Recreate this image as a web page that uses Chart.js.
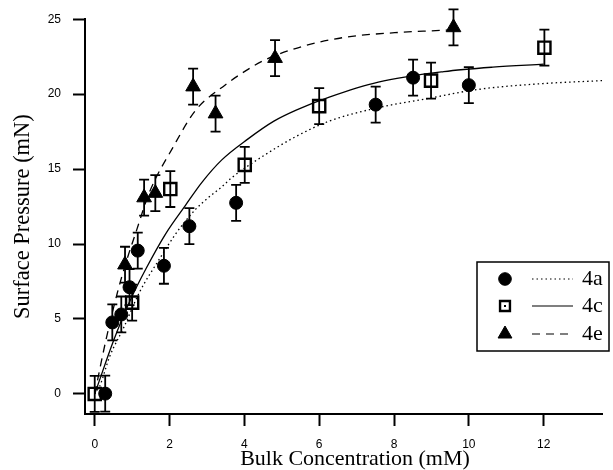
<!DOCTYPE html>
<html><head><meta charset="utf-8">
<script src="https://cdn.jsdelivr.net/npm/chart.js@4.4.0/dist/chart.umd.min.js"></script>
<style>html,body{margin:0;padding:0;background:#fff;}canvas{display:block;}</style>
</head><body>
<canvas id="c" width="613" height="470"></canvas>
<script>
// ---- data ----
const xTicks = [0, 2, 4, 6, 8, 10, 12];
const yTicks = [0, 5, 10, 15, 20, 25];
const seriesNames = ['4a', '4c', '4e'];
const xTitle = 'Bulk Concentration (mM)';
const yTitle = 'Surface Pressure (mN)';

const x4a = [0.28, 0.47, 0.71, 0.93, 1.15, 1.85, 2.53, 3.78, 7.51, 8.51, 10.0];
const y4a = [0.02, 4.77, 5.3, 7.12, 9.56, 8.55, 11.19, 12.75, 19.3, 21.1, 20.6];
const e4a = [1.2, 1.2, 1.2, 1.2, 1.2, 1.2, 1.2, 1.2, 1.2, 1.2, 1.2];

const x4c = [0.0, 1.0, 2.02, 4.01, 6.0, 8.99, 12.02];
const y4c = [0.0, 6.09, 13.67, 15.28, 19.2, 20.9, 23.1];
const e4c = [1.2, 1.2, 1.2, 1.2, 1.2, 1.2, 1.2];

const x4e = [0.81, 1.32, 1.62, 2.63, 3.23, 4.82, 9.59];
const y4e = [8.62, 13.1, 13.4, 20.5, 18.7, 22.4, 24.45];
const e4e = [1.2, 1.2, 1.2, 1.2, 1.2, 1.2, 1.2];

const fitX4a = [0, 0.13, 0.4, 0.77, 1.2, 1.73, 2.17, 2.69, 3.04, 3.39, 3.65, 4.52, 5.4, 6.27, 7.58, 8.89, 10.2, 11.95, 13.56];
const fitY4a = [0, 0.5, 2.5, 4.4, 6.8, 9.0, 10.7, 12.3, 13.1, 13.8, 14.4, 15.9, 17.2, 18.2, 19.1, 19.7, 20.3, 20.7, 20.9];

const fitX4c = [0, 0.07, 0.51, 0.94, 1.38, 1.9, 2.43, 2.86, 3.39, 4.09, 4.79, 5.4, 6.27, 7.58, 9.33, 10.64, 12.0];
const fitY4c = [0, 0.5, 3.6, 6.2, 8.4, 10.7, 12.6, 14.1, 15.6, 17.0, 18.2, 18.95, 19.8, 20.8, 21.5, 21.8, 22.0];

const fitX4e = [0, 0.3, 0.6, 0.84, 1.09, 1.47, 2.08, 2.69, 3.48, 4.0, 4.52, 5.57, 6.71, 8.02, 9.24, 9.6];
const fitY4e = [0, 3.6, 6.7, 8.8, 10.7, 13.5, 16.4, 18.9, 20.6, 21.5, 22.25, 23.2, 23.8, 24.1, 24.25, 24.3];

// ---- helpers ----
const pts = (xs, ys) => xs.map((x, i) => ({x: x, y: ys[i]}));
const SERIF = '"Liberation Serif", "Times New Roman", serif';
const SANS = '"Liberation Sans", Arial, sans-serif';

const markerStyles = [
  {pointStyle: 'circle', radius: 6.5, fill: '#000', borderWidth: 1},
  {pointStyle: 'rect', radius: 8.6, fill: 'rgba(0,0,0,0)', borderWidth: 2.4},
  {pointStyle: 'triangle', radius: 8.5, fill: '#000', borderWidth: 1}
];
const lineDashes = [[1.5, 3], [], [8, 6]];

function pointDataset(i, xs, ys, es) {
  const m = markerStyles[i];
  return {
    label: seriesNames[i], data: pts(xs, ys), errors: es, showLine: false,
    pointStyle: m.pointStyle, pointRadius: m.radius, pointBackgroundColor: m.fill,
    pointBorderColor: '#000', pointBorderWidth: m.borderWidth, order: 1, clip: false
  };
}
function fitDataset(i, xs, ys) {
  return {
    label: seriesNames[i] + ' fit', data: pts(xs, ys), showLine: true, pointRadius: 0,
    borderColor: '#000', borderWidth: 1.3, borderDash: lineDashes[i],
    cubicInterpolationMode: 'monotone', order: 2, clip: false, fill: false
  };
}

const errorBars = {
  id: 'errorBars',
  beforeDatasetsDraw(chart) {
    const ctx = chart.ctx, ys = chart.scales.y;
    ctx.save();
    ctx.strokeStyle = '#000';
    ctx.lineWidth = 1.8;
    chart.data.datasets.forEach((ds, di) => {
      if (!ds.errors) return;
      const meta = chart.getDatasetMeta(di);
      meta.data.forEach((el, j) => {
        const v = ds.data[j].y, e = ds.errors[j];
        const x = el.x, yt = ys.getPixelForValue(v + e), yb = ys.getPixelForValue(v - e);
        ctx.beginPath();
        ctx.moveTo(x, yt); ctx.lineTo(x, yb);
        ctx.moveTo(x - 5, yt); ctx.lineTo(x + 5, yt);
        ctx.moveTo(x - 5, yb); ctx.lineTo(x + 5, yb);
        ctx.stroke();
      });
    });
    ctx.restore();
  }
};

const xAxisTitle = {
  id: 'xAxisTitle',
  afterDraw(chart) {
    const ctx = chart.ctx;
    ctx.save();
    ctx.fillStyle = '#000';
    ctx.font = '22px ' + SERIF;
    ctx.textAlign = 'center';
    ctx.textBaseline = 'middle';
    ctx.fillText(xTitle, 355, 459);
    ctx.restore();
  }
};

const boxLegend = {
  id: 'boxLegend',
  afterDraw(chart) {
    const ctx = chart.ctx;
    const bx = 477, by = 262, bw = 132, bh = 89;
    const rows = [279, 306, 334];
    ctx.save();
    ctx.fillStyle = '#fff';
    ctx.fillRect(bx, by, bw, bh);
    ctx.strokeStyle = '#000';
    ctx.lineWidth = 1.5;
    ctx.strokeRect(bx, by, bw, bh);
    seriesNames.forEach((name, i) => {
      const y = rows[i], m = markerStyles[i];
      ctx.fillStyle = m.fill;
      ctx.strokeStyle = '#000';
      ctx.lineWidth = m.borderWidth;
      ctx.setLineDash([]);
      const r = i === 1 ? 7 : (i === 2 ? 8 : 6.3);
      Chart.helpers.drawPoint(ctx, {pointStyle: m.pointStyle, radius: r, rotation: 0, borderWidth: m.borderWidth}, 505, y);
      if (i === 1) { ctx.fillStyle = '#000'; ctx.fillRect(504, y - 1, 2, 2); }
      ctx.beginPath();
      ctx.lineWidth = 1.2;
      ctx.setLineDash(lineDashes[i]);
      ctx.moveTo(532, y); ctx.lineTo(573, y);
      ctx.stroke();
      ctx.setLineDash([]);
      ctx.fillStyle = '#000';
      ctx.font = '22px ' + SERIF;
      ctx.textBaseline = 'middle';
      ctx.textAlign = 'left';
      ctx.fillText(name, 582, y);
    });
    ctx.restore();
  }
};

new Chart(document.getElementById('c'), {
  type: 'scatter',
  data: {
    datasets: [
      pointDataset(0, x4a, y4a, e4a),
      pointDataset(1, x4c, y4c, e4c),
      pointDataset(2, x4e, y4e, e4e),
      fitDataset(0, fitX4a, fitY4a),
      fitDataset(1, fitX4c, fitY4c),
      fitDataset(2, fitX4e, fitY4e)
    ]
  },
  options: {
    responsive: false, animation: false, devicePixelRatio: 1,
    layout: {padding: {top: 15, right: 0, bottom: 0, left: 0}},
    plugins: {legend: {display: false}, tooltip: {enabled: false}},
    scales: {
      x: {
        type: 'linear', min: -0.26, max: 13.56,
        afterBuildTicks: s => { s.ticks = xTicks.map(v => ({value: v})); },
        afterFit: s => { s.height = 56; },
        grid: {display: true, drawOnChartArea: false, drawTicks: true, tickLength: 12, tickWidth: 2, tickColor: '#000'},
        border: {display: true, color: '#000', width: 2},
        ticks: {color: '#000', font: {family: SANS, size: 12}, padding: 11, maxRotation: 0, autoSkip: false},
        title: {display: false}
      },
      y: {
        type: 'linear', min: -1.34, max: 25,
        afterBuildTicks: s => { s.ticks = yTicks.map(v => ({value: v})); },
        afterFit: s => { s.width = 85; },
        grid: {display: true, drawOnChartArea: false, drawTicks: true, tickLength: 12, tickWidth: 2, tickColor: '#000'},
        border: {display: true, color: '#000', width: 2},
        ticks: {color: '#000', font: {family: SANS, size: 12}, padding: 12, autoSkip: false},
        title: {display: true, text: yTitle, color: '#000',
                font: {family: SERIF, size: 22.5, lineHeight: 1}, padding: {top: 12, bottom: 0}}
      }
    }
  },
  plugins: [errorBars, xAxisTitle, boxLegend]
});
</script>
</body></html>
